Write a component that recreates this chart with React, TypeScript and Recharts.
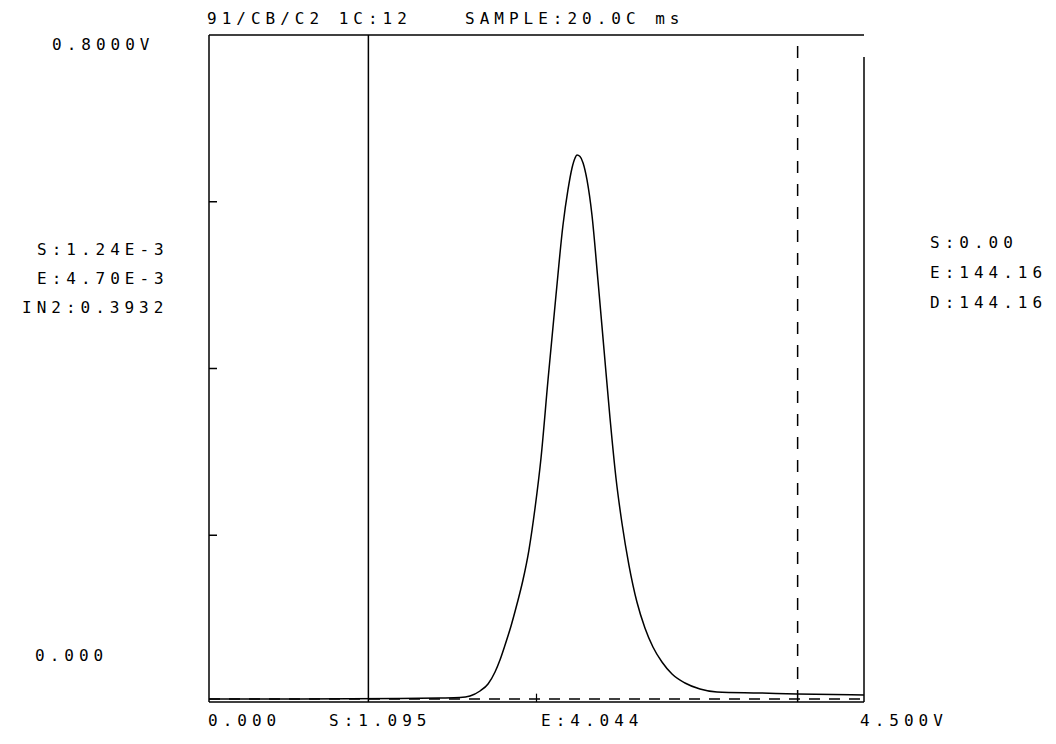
import React from "react";
import {
  ComposedChart,
  Line,
  XAxis,
  YAxis,
  ReferenceLine,
  Customized,
} from "recharts";

// Detector voltage (x, V) and signal (y, V)
const voltage = [
  0.0, 0.625, 1.312, 1.587, 1.724, 1.793, 1.862, 1.917, 1.965, 1.999, 2.034,
  2.075, 2.116, 2.157, 2.198, 2.24, 2.281, 2.329, 2.384, 2.432, 2.466, 2.494,
  2.515, 2.528, 2.549, 2.57, 2.597, 2.631, 2.672, 2.714, 2.755, 2.796, 2.837,
  2.885, 2.94, 2.995, 3.05, 3.112, 3.181, 3.27, 3.373, 3.49, 3.785, 4.04, 4.5,
];
const signal = [
  0.0036, 0.0036, 0.0042, 0.0048, 0.0054, 0.0072, 0.0132, 0.0216, 0.036,
  0.0504, 0.0684, 0.0912, 0.1175, 0.1463, 0.1823, 0.2327, 0.2927, 0.3862,
  0.4881, 0.5721, 0.6141, 0.6405, 0.6525, 0.656, 0.6542, 0.6465, 0.6261,
  0.5841, 0.5061, 0.4222, 0.3406, 0.2687, 0.2147, 0.1643, 0.1199, 0.0888,
  0.066, 0.048, 0.0336, 0.0228, 0.0156, 0.012, 0.0108, 0.0096, 0.0084,
];

const xDomain = [0, 4.5];
const yDomain = [0, 0.8];
const yTicks = [0.2, 0.4, 0.6];
const xTickMid = 2.25;
const cursorStart = 1.095;
const cursorEnd = 4.044;
const baseline = 0.0036;
const rightBorderTop = 0.7736;

const titleTexts = ["91/CB/C2 1C:12", "SAMPLE:20.0C ms"];
const leftInfo = ["S:1.24E-3", "E:4.70E-3", "IN2:0.3932"];
const rightInfo = ["S:0.00", "E:144.16", "D:144.16"];
const yLabels = ["0.8000V", "0.000"];
const xLabels = ["0.000", "S:1.095", "E:4.044", "4.500V"];

const data = voltage.map((v, i) => ({ v, s: signal[i] }));

const FONT = "'DejaVu Sans Mono', monospace";

const T = ({ x, y, children }: { x: number; y: number; children: string }) => (
  <text
    x={x}
    y={y}
    fontFamily={FONT}
    fontSize={16}
    letterSpacing={5}
    fill="#000"
    dominantBaseline="central"
  >
    {children}
  </text>
);

const Texts = () => (
  <g>
    <T x={199} y={10}>{titleTexts[0]}</T>
    <T x={457} y={10}>{titleTexts[1]}</T>
    <T x={44} y={36}>{yLabels[0]}</T>
    <T x={27} y={647}>{yLabels[1]}</T>
    <T x={29} y={241}>{leftInfo[0]}</T>
    <T x={29} y={270}>{leftInfo[1]}</T>
    <T x={14} y={299}>{leftInfo[2]}</T>
    <T x={922} y={234}>{rightInfo[0]}</T>
    <T x={922} y={264}>{rightInfo[1]}</T>
    <T x={922} y={294}>{rightInfo[2]}</T>
    <T x={200} y={712}>{xLabels[0]}</T>
    <T x={321} y={712}>{xLabels[1]}</T>
    <T x={533} y={712}>{xLabels[2]}</T>
    <T x={852} y={712}>{xLabels[3]}</T>
  </g>
);

export default function App() {
  const stroke = "#000";
  return (
    <div style={{ width: 1040, height: 728, background: "#fff" }}>
      <ComposedChart
        width={1040}
        height={728}
        data={data}
        margin={{ top: 27, right: 184, bottom: 34, left: 201 }}
      >
        <XAxis
          dataKey="v"
          type="number"
          domain={xDomain}
          hide
          allowDataOverflow
        />
        <YAxis type="number" domain={yDomain} hide allowDataOverflow />
        {/* frame */}
        <ReferenceLine x={xDomain[0]} stroke={stroke} strokeWidth={1.5} />
        <ReferenceLine y={yDomain[1]} stroke={stroke} strokeWidth={1.5} />
        <ReferenceLine y={yDomain[0]} stroke={stroke} strokeWidth={1.5} />
        <ReferenceLine
          segment={[
            { x: xDomain[1], y: yDomain[0] },
            { x: xDomain[1], y: rightBorderTop },
          ]}
          stroke={stroke}
          strokeWidth={1.5}
        />
        {/* axis ticks */}
        {yTicks.map((t) => (
          <ReferenceLine
            key={t}
            segment={[
              { x: xDomain[0], y: t },
              { x: 0.055, y: t },
            ]}
            stroke={stroke}
            strokeWidth={1.5}
          />
        ))}
        <ReferenceLine
          segment={[
            { x: xTickMid, y: 0 },
            { x: xTickMid, y: 0.01 },
          ]}
          stroke={stroke}
          strokeWidth={1.2}
        />
        {/* baseline */}
        <ReferenceLine
          y={baseline}
          stroke={stroke}
          strokeWidth={1.3}
          strokeDasharray="11 9"
        />
        {/* cursors */}
        <ReferenceLine x={cursorStart} stroke={stroke} strokeWidth={1.5} />
        <ReferenceLine
          x={cursorEnd}
          stroke={stroke}
          strokeWidth={1.5}
          strokeDasharray="12 11"
        />
        <Line
          dataKey="s"
          type="monotone"
          stroke={stroke}
          strokeWidth={1.5}
          dot={false}
          isAnimationActive={false}
        />
        <Customized component={Texts} />
      </ComposedChart>
    </div>
  );
}
